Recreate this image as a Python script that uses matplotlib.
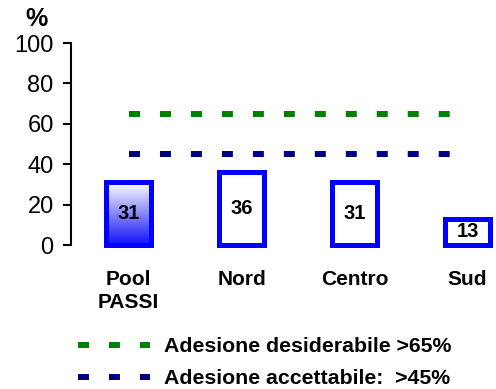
import matplotlib
matplotlib.use("Agg")
import matplotlib.pyplot as plt
import numpy as np
from matplotlib.colors import LinearSegmentedColormap

plt.rcParams['font.family'] = ['Liberation Sans', 'DejaVu Sans']
plt.rcParams['lines.scale_dashes'] = False

# data
categories = ["Pool\nPASSI", "Nord", "Centro", "Sud"]
values = [31, 36, 31, 13]
soglia_desiderabile = 65
soglia_accettabile = 45
label_desiderabile = "Adesione desiderabile >65%"
label_accettabile = "Adesione accettabile:  >45%"

x = np.arange(len(categories))

fig = plt.figure(figsize=(4.96, 3.89), dpi=100)
ax = fig.add_axes([71 / 496, 1 - 245 / 389, 1 - 71 / 496, (245 - 43) / 389])

bars = ax.bar(x, values, width=0.39, facecolor='white', edgecolor='#0000FF',
              linewidth=3.6, zorder=3, clip_on=False)

# gradient fill for the pool bar (white on top, blue at the bottom)
b0 = bars[0]
b0.set_facecolor('none')
grad = np.linspace(0, 1, 256).reshape(-1, 1)
cmap = LinearSegmentedColormap.from_list('wb', ['#FFFFFF', '#1010F8'])
im = ax.imshow(grad, cmap=cmap, aspect='auto', origin='upper',
               extent=[b0.get_x(), b0.get_x() + b0.get_width(), 0, values[0]],
               zorder=2)
im.set_clip_path(b0)

for xi, v in zip(x, values):
    ax.text(xi, v / 2, str(v), ha='center', va='center', fontsize=14.5,
            fontweight='bold', zorder=4)

dash = (0, (7.9, 14.4))
ax.plot(x, [soglia_desiderabile] * len(x), color='#008000', lw=4.3,
        linestyle=dash, label=label_desiderabile, zorder=1)
ax.plot(x, [soglia_accettabile] * len(x), color='#000080', lw=4.3,
        linestyle=dash, label=label_accettabile, zorder=1)

ax.set_xlim(-0.509, 3.252)
ax.set_ylim(0, 100)
ax.set_yticks([0, 20, 40, 60, 80, 100])
ax.set_xticks(x)
ax.set_xticklabels(categories, fontsize=15, fontweight='bold', linespacing=1.3)
ax.tick_params(axis='x', length=0, pad=18)
ax.tick_params(axis='y', labelsize=17, length=5.5, width=1.5, pad=7)
for s in ['top', 'right', 'bottom']:
    ax.spines[s].set_visible(False)
ax.spines['left'].set_linewidth(1.5)

fig.text(37 / 496, 1 - 19 / 389, "%", ha='center', va='center',
         fontsize=18, fontweight='bold')

handles, labels = ax.get_legend_handles_labels()
fig.legend(handles, labels, loc='upper left',
           bbox_to_anchor=(78 / 496, 1 - 337 / 389), frameon=False,
           borderpad=0, borderaxespad=0, handlelength=3.4, handletextpad=0.66,
           labelspacing=0.62, prop={'size': 15.3, 'weight': 'bold'})

fig.savefig("out.png", dpi=100)
